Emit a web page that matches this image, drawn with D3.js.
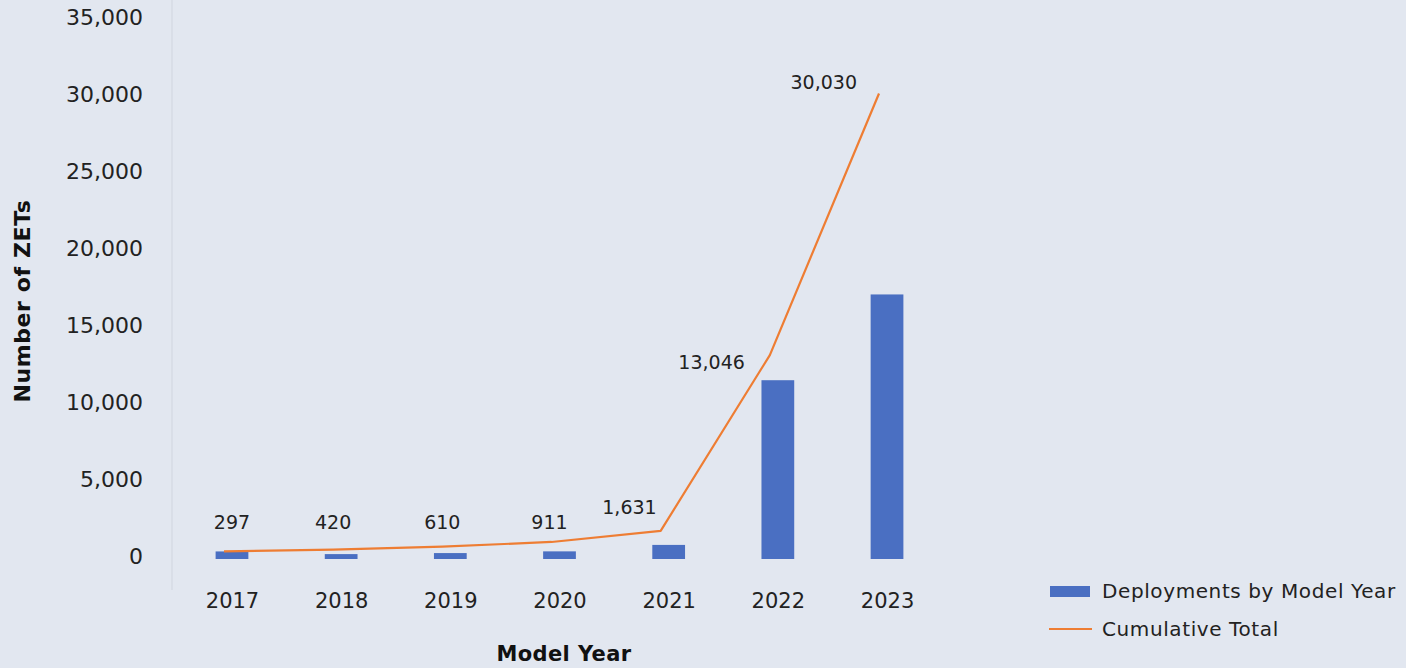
<!DOCTYPE html>
<html>
<head>
<meta charset="utf-8">
<script src="https://cdn.jsdelivr.net/npm/d3@7"></script>
<style>
  html, body { margin: 0; padding: 0; background: #e2e7f0; }
  svg { display: block; font-family: "DejaVu Sans", sans-serif; }
</style>
</head>
<body>
<svg id="chart" width="1406" height="668"></svg>
<script>
// ---- data ----
const years = ["2017", "2018", "2019", "2020", "2021", "2022", "2023"];
const deployments = [297, 123, 190, 301, 720, 11415, 16984];
const cumulative = [297, 420, 610, 911, 1631, 13046, 30030];
const yTicks = [0, 5000, 10000, 15000, 20000, 25000, 30000, 35000];
const seriesNames = ["Deployments by Model Year", "Cumulative Total"];

// ---- layout / style (not data) ----
const plot = { left: 177.4, right: 941.6, top: 17, bottom: 556 };
const barColor = "#4a6fc2";
const lineColor = "#ee7d33";
const textColor = "#222";
const lineShift = -8;               // line drawn slightly left of bar centres, as in the original
// label nudges relative to each line point [dx, dy, anchor]
const labelNudge = [
  [8, null, "middle"], [0, null, "middle"], [0, null, "middle"], [-2, null, "middle"],
  [-4, -17, "end"], [-25, 14, "end"], [-22, -5, "end"]
];

const svg = d3.select("#chart");

const x = d3.scalePoint().domain(years).range([plot.left, plot.right]).padding(0.5);
const y = d3.scaleLinear().domain([0, 35000]).range([plot.bottom, plot.top]);
const barW = x.step() * 0.3;

// faint axis line
svg.append("line")
  .attr("x1", 172).attr("x2", 172).attr("y1", 0).attr("y2", 590)
  .attr("stroke", "#d4d9e2").attr("stroke-width", 1.2);

// y axis
const yAxis = svg.append("g")
  .attr("transform", `translate(172,0)`)
  .call(d3.axisLeft(y).tickValues(yTicks).tickFormat(d3.format(",")).tickSize(0).tickPadding(29));
yAxis.select(".domain").remove();
yAxis.selectAll("text")
  .attr("fill", textColor).style("font-size", "22px").style("font-family", "DejaVu Sans, sans-serif")
  .attr("dy", "0.36em");

// x axis
const xAxis = svg.append("g")
  .attr("transform", `translate(0,${plot.bottom})`)
  .call(d3.axisBottom(x).tickSize(0).tickPadding(37));
xAxis.select(".domain").remove();
xAxis.selectAll("text")
  .attr("fill", textColor).style("font-size", "21px").style("font-family", "DejaVu Sans, sans-serif");

// bars (extend a few px below the zero line as in the original)
svg.append("g").selectAll("rect")
  .data(deployments)
  .join("rect")
  .attr("x", (d, i) => x(years[i]) - barW / 2)
  .attr("y", d => y(d))
  .attr("width", barW)
  .attr("height", d => y(0) - y(d) + 3)
  .attr("fill", barColor);

// cumulative line
const line = d3.line()
  .x((d, i) => x(years[i]) + lineShift)
  .y(d => y(d));
svg.append("path")
  .datum(cumulative)
  .attr("d", line)
  .attr("fill", "none")
  .attr("stroke", lineColor)
  .attr("stroke-width", 2.2)
  .attr("stroke-linejoin", "round");

// data labels
svg.append("g").selectAll("text")
  .data(cumulative)
  .join("text")
  .attr("x", (d, i) => x(years[i]) + lineShift + labelNudge[i][0])
  .attr("y", (d, i) => labelNudge[i][1] === null ? y(0) - 27 : y(d) + labelNudge[i][1])
  .attr("text-anchor", (d, i) => labelNudge[i][2])
  .attr("fill", textColor)
  .style("font-size", "19px")
  .text(d => d3.format(",")(d));

// axis titles
svg.append("text")
  .attr("transform", "translate(30,301) rotate(-90)")
  .attr("text-anchor", "middle")
  .attr("fill", "#111").style("font-size", "22px").style("font-weight", "bold")
  .style("letter-spacing", "0.6px")
  .text("Number of ZETs");
svg.append("text")
  .attr("x", 564).attr("y", 661)
  .attr("text-anchor", "middle")
  .attr("fill", "#111").style("font-size", "21px").style("font-weight", "bold")
  .style("letter-spacing", "0.4px")
  .text("Model Year");

// legend
const lg = svg.append("g");
lg.append("rect").attr("x", 1050).attr("y", 586).attr("width", 40).attr("height", 11).attr("fill", barColor);
lg.append("text").attr("x", 1102).attr("y", 598).attr("fill", textColor)
  .style("font-size", "20px").style("letter-spacing", "0.6px").text(seriesNames[0]);
lg.append("line").attr("x1", 1049).attr("x2", 1092).attr("y1", 629).attr("y2", 629)
  .attr("stroke", lineColor).attr("stroke-width", 2.2);
lg.append("text").attr("x", 1102).attr("y", 636).attr("fill", textColor)
  .style("font-size", "20px").style("letter-spacing", "0.6px").text(seriesNames[1]);
</script>
</body>
</html>
